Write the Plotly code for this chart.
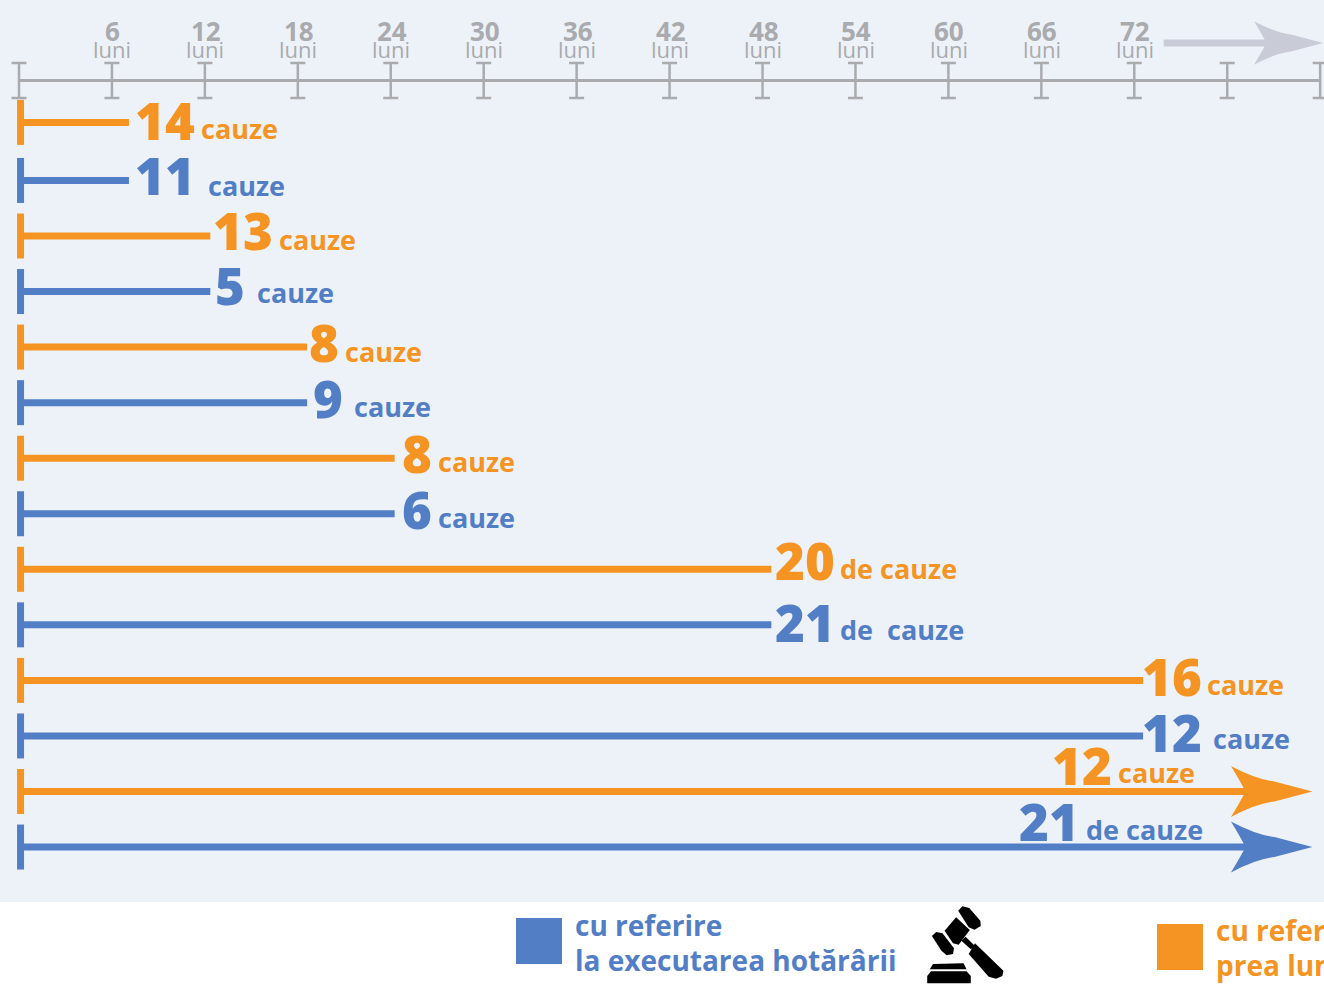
import plotly.graph_objects as go

# ---- data ----
tick_months = [0, 6, 12, 18, 24, 30, 36, 42, 48, 54, 60, 66, 72, 78, 84]
tick_labels = ["", "6", "12", "18", "24", "30", "36", "42", "48", "54", "60", "66", "72", "", ""]
counts = [14, 11, 13, 5, 8, 9, 8, 6, 20, 21, 16, 12, 12, 21]
units = ["cauze", "cauze", "cauze", "cauze", "cauze", "cauze", "cauze", "cauze",
         "de cauze", "de  cauze", "cauze", "cauze", "cauze", "de cauze"]
series = ["o", "b", "o", "b", "o", "b", "o", "b", "o", "b", "o", "b", "o", "b"]
end_months = [7.1, 7.1, 12.35, 12.35, 18.6, 18.6, 24.25, 24.25, 48.57, 48.57, 72.57, 72.57, 83.5, 83.5]
open_ended = [False] * 12 + [True, True]
row_pos = [-0.045, 1, 2, 3, 4, 5, 6, 7, 8, 9, 10, 11, 12, 13]

# ---- style ----
W, H = 1324, 986
PLOT_H = 902
BLUE, ORANGE, GRAY, ARROW_GRAY = "#527EC6", "#F59422", "#A9ABAE", "#C9CCD6"
BG = "#EDF2F9"
FONT = "Open Sans"
colors = {"o": ORANGE, "b": BLUE}
PX0, PX_PER_MONTH = 19.0, 15.49
ROW0, ROW_PX = 124.9, 55.55
AXIS_ROW = (80.5 - ROW0) / ROW_PX
TOP_ARROW_ROW = (43 - ROW0) / ROW_PX

# label offsets (pixels), relative to the end of each line
num_dx = [4, 4, 1, 3, 0, 4, 5, 5, 2, 2, -3, -3, -262, -295]
unit_dx = [70, 77, 67, 45, 36, 45, 41, 41, 67, 67, 62, 68, -196, -228]
num_dy = [2, 5, 6, 7, 5, 5, 5, 5, 9, 3, 4, 4, 27, 26]
unit_dy = [-6, -5, -3, -1, -4, -4, -3, -4, 1, -5, -4, -3, 19, 18]

fig = go.Figure()

# time axis: line with I-beam ticks
fig.add_trace(go.Scatter(x=[tick_months[0], tick_months[-1]], y=[AXIS_ROW] * 2, mode="lines",
                         line=dict(color=GRAY, width=3), showlegend=False, hoverinfo="skip"))
fig.add_trace(go.Scatter(x=tick_months, y=[AXIS_ROW] * len(tick_months), mode="markers",
                         marker=dict(size=1, color=GRAY),
                         error_y=dict(type="constant", value=17.5 / ROW_PX, color=GRAY, thickness=2.5, width=7.5),
                         showlegend=False, hoverinfo="skip"))
# grey "continues" arrow
fig.add_trace(go.Scatter(x=[73.9, 81.5], y=[TOP_ARROW_ROW] * 2, mode="lines",
                         line=dict(color=ARROW_GRAY, width=7), showlegend=False, hoverinfo="skip"))


def head(x, y, color, k=1.0):
    pts = ("M {0} {1} Q {2} {3} {4} {5} L 0 0 L {4} {6} Q {2} {7} {0} {8} "
           "Q {9} {6} {10} 0 Q {9} {5} {0} {1} Z").format(
        -81.5 * k, 25.5 * k, -56 * k, 12 * k, -38 * k, 10 * k, -10 * k, -12 * k, -25.5 * k, -72 * k, -67 * k)
    return dict(type="path", xref="x", yref="y", xsizemode="pixel", ysizemode="pixel",
                xanchor=x, yanchor=y, fillcolor=color, line=dict(width=0), layer="above", path=pts)


shapes = [head(84.2, TOP_ARROW_ROW, ARROW_GRAY, 0.85)]
annotations = []


def label(x, y, text, size, color, weight=700, xanchor="left", xshift=0, yshift=0, xref="x", yref="y"):
    annotations.append(dict(x=x, y=y, xref=xref, yref=yref, text=text, showarrow=False,
                            xanchor=xanchor, yanchor="middle", xshift=xshift, yshift=yshift,
                            font=dict(family=FONT, size=size, color=color, weight=weight)))


for m, t in zip(tick_months, tick_labels):
    if t:
        label(m, AXIS_ROW, t, 26, GRAY, xanchor="center", xshift=1, yshift=49.5)
        label(m, AXIS_ROW, "luni", 22, GRAY, weight=400, xanchor="center", xshift=0.5, yshift=32)

# duration rows
for i, (n, u, s, e, op, r) in enumerate(zip(counts, units, series, end_months, open_ended, row_pos)):
    c = colors[s]
    line_end = e - 4 if op else e
    fig.add_trace(go.Scatter(x=[0, line_end], y=[r, r], mode="lines", line=dict(color=c, width=7),
                             name=str(n), showlegend=False, hoverinfo="skip"))
    fig.add_trace(go.Scatter(x=[0.1], y=[r], mode="markers", marker=dict(size=1, color=c),
                             error_y=dict(type="constant", value=22.5 / ROW_PX, color=c, thickness=7, width=0),
                             showlegend=False, hoverinfo="skip"))
    if op:
        shapes.append(head(e, r, c))
    label(e, r, str(n), 51, c, weight=800, xshift=num_dx[i], yshift=num_dy[i])
    label(e, r, u, 27, c, xshift=unit_dx[i], yshift=unit_dy[i])

# ---- legend (paper-anchored) ----
def paper_rect(x0, y0, x1, y1, color):
    return dict(type="rect", xref="paper", yref="paper", x0=x0 / W, x1=x1 / W,
                y0=1 - y1 / H, y1=1 - y0 / H, fillcolor=color, line=dict(width=0))


shapes.append(paper_rect(516, 918, 562, 964, BLUE))
shapes.append(paper_rect(1157, 924, 1203, 970, ORANGE))
for x, y, txt, col in [(573, 925, "cu referire", BLUE), (573, 960, "la executarea hotărârii", BLUE),
                       (1214, 930, "cu referire", ORANGE), (1214, 965, "prea lungă", ORANGE)]:
    label(x / W, 1 - y / H, txt, 28, col, xref="paper", yref="paper")

# gavel icon, outlined in crop coordinates around (500, 880); crop scale is 1.903 in x and 3 in y
gavel = [
    [(872, 92), (880, 79), (893, 84), (914, 122), (915, 138), (903, 149), (892, 142)],
    [(822, 168), (830, 156), (842, 160), (864, 205), (862, 222), (850, 226), (840, 212)],
    [(846, 152), (868, 112), (894, 150), (873, 194), (862, 190)],
    [(878, 182), (886, 170), (904, 198), (896, 208)],
    [(892, 222), (904, 190), (958, 272), (956, 288), (944, 296), (930, 290)],
    [(824, 252), (882, 250), (888, 268), (818, 268)],
    [(820, 274), (888, 274), (896, 288), (896, 310), (813, 310), (813, 288)],
]
for poly in gavel:
    path = "M " + " L ".join(f"{x / 1.903:.1f} {-y / 3:.1f}" for x, y in poly) + " Z"
    shapes.append(dict(type="path", xref="paper", yref="paper", xsizemode="pixel", ysizemode="pixel",
                       xanchor=500 / W, yanchor=1 - 880 / H, path=path, fillcolor="#000000", line=dict(width=0)))

fig.update_layout(
    width=W, height=H, margin=dict(l=0, r=0, t=0, b=0),
    paper_bgcolor="#FFFFFF", plot_bgcolor=BG, showlegend=False,
    xaxis=dict(range=[-PX0 / PX_PER_MONTH, (W - PX0) / PX_PER_MONTH], visible=False, fixedrange=True),
    yaxis=dict(range=[(PLOT_H - ROW0) / ROW_PX, -ROW0 / ROW_PX], visible=False, fixedrange=True,
               domain=[1 - PLOT_H / H, 1]),
    shapes=shapes, annotations=annotations,
)
fig.write_html("out.html", config=dict(displayModeBar=False),
               post_script="document.body.style.margin='0';")
